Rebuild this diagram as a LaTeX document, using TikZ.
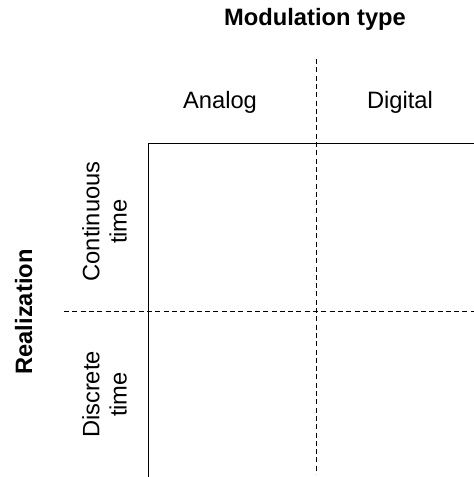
\documentclass[tikz,border=0pt]{standalone}
\usepackage{fontspec}
\setmainfont{Liberation Sans}
\begin{document}
\begin{tikzpicture}[x=1pt,y=-1pt,
  lbl/.style={inner sep=0pt, font=\fontsize{23.7}{27.3}\selectfont},
  hdr/.style={lbl, font=\fontsize{23.7}{27.3}\selectfont\bfseries},
  solidline/.style={line width=1pt, black},
  dashline/.style={line width=1pt, black, dash pattern=on 5pt off 3.3pt}]
\useasboundingbox (0,0) rectangle (474,477);
% titles
\node[hdr, anchor=base] (title) at (315,25) {Modulation type};
\node[hdr, anchor=base, rotate=90] (real) at (32,312) {Realization};
% column labels
\node[lbl, anchor=base] (analog) at (220,108) {Analog};
\node[lbl, anchor=base] (digital) at (400,108) {Digital};
% row labels
\node[lbl, align=center, rotate=90] (cont) at (104.5,221.5) {Continuous\\time};
\node[lbl, align=center, rotate=90] (disc) at (104.5,394.5) {Discrete\\time};
% grid coordinates
\coordinate (corner) at (148,143);
\coordinate (rightTop) at (474,143);
\coordinate (leftBottom) at (148,477);
\coordinate (vdTop) at (316,59);
\coordinate (vdBot) at (316,474);
\coordinate (hdLeft) at (64,311);
\coordinate (hdRight) at (474,311);
% lines
\draw[solidline] (rightTop) -- (corner) -- (leftBottom);
\draw[dashline] (vdTop) -- (vdBot);
\draw[dashline] (hdLeft) -- (hdRight);
\end{tikzpicture}
\end{document}
